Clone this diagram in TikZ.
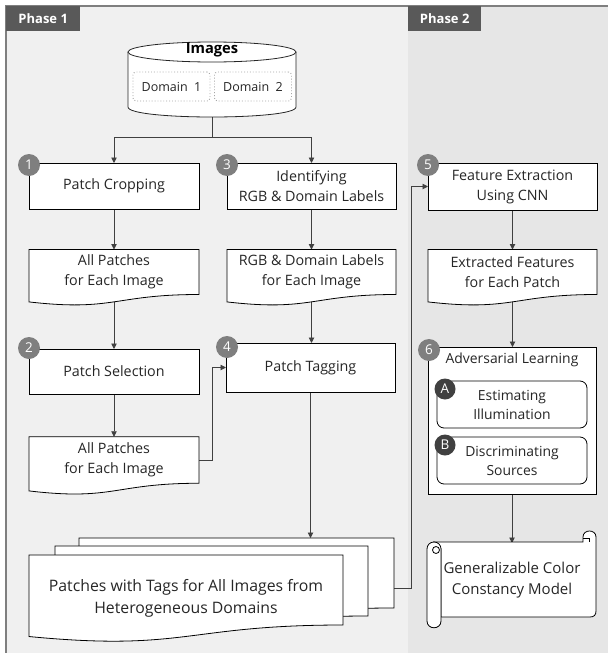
\documentclass[tikz,border=0pt]{standalone}
\usepackage{fontspec}
\setmainfont{Open Sans}
\usetikzlibrary{arrows.meta,calc}
\definecolor{pone}{HTML}{F0F0F0}
\definecolor{ptwo}{HTML}{E6E6E6}
\definecolor{hdr}{HTML}{595959}
\definecolor{framec}{HTML}{7F7F7F}
\definecolor{badgegray}{HTML}{7F7F7F}
\definecolor{badgedark}{HTML}{404040}
\definecolor{txt}{HTML}{262626}
\definecolor{lin}{HTML}{404040}
\definecolor{dotc}{HTML}{A6A6A6}
\pgfdeclarelayer{bg}\pgfdeclarelayer{conn}\pgfdeclarelayer{shp}
\pgfsetlayers{bg,conn,shp,main}
\newcommand\docoutline[1]{%
  \begin{pgfonlayer}{shp}
  \draw[docline] (#1.north west) -- (#1.north east) -- (#1.south east)
    .. controls (#1.south) and ($(#1.north)!1.381!(#1.south)$)
    .. ($(#1.north west)!1.1646!(#1.south west)$) -- cycle;
  \end{pgfonlayer}}
\begin{document}
\begin{tikzpicture}[x=1pt,y=-1pt,
  every node/.style={font=\fontsize{14.3}{20}\selectfont, text=txt},
  stepbox/.style={draw=black, line width=0.8pt, fill=white, align=center, inner sep=0pt, outer sep=0pt},
  docbox/.style={draw=none, align=center, inner sep=0pt, outer sep=0pt},
  docline/.style={draw=black, line width=0.8pt, fill=white},
  subbox/.style={draw=black, line width=0.8pt, fill=white, rounded corners=7pt, align=center, inner sep=0pt, outer sep=0pt, minimum width=150, minimum height=47, font=\fontsize{13.9}{19}\selectfont},
  badge/.style={circle, fill=badgegray, text=white, inner sep=0pt, minimum size=22, font=\fontsize{13.5}{14}\selectfont},
  badgeab/.style={circle, fill=badgedark, text=white, inner sep=0pt, minimum size=21, font=\fontsize{13.5}{14}\selectfont},
  phasehdr/.style={fill=hdr, text=white, anchor=north west, inner sep=0pt, minimum height=25, font=\bfseries\fontsize{13}{14}\selectfont},
  dombox/.style={draw=dotc, dotted, line width=0.9pt, rounded corners=3pt, minimum width=77, minimum height=29, inner sep=0pt, font=\fontsize{12.5}{14}\selectfont},
  conn/.style={draw=lin, line width=0.9pt, -{Triangle[length=5.5pt,width=5.5pt]}},
  plainline/.style={draw=lin, line width=0.9pt}
]
\useasboundingbox (0,0) rectangle (608,653);
\begin{pgfonlayer}{bg}
  \fill[pone] (6,6) rectangle (408,653);
  \fill[ptwo] (408,6) rectangle (608,653);
  \draw[framec, line width=1.3pt] (6,653) -- (6,6) -- (608,6);
\end{pgfonlayer}

% phase headers
\node[phasehdr, minimum width=74] (ph1) at (6,6) {Phase 1};
\node[phasehdr, minimum width=73] (ph2) at (408,6) {Phase 2};

% database cylinder
\draw[docline, draw=txt] (128,52) -- (128,107) .. controls (128,120.33) and (296,120.33) .. (296,107) -- (296,52);
\draw[docline, draw=txt] (212,52) ellipse [x radius=84pt, y radius=10pt];
\node[font=\bfseries\fontsize{14.7}{15}\selectfont, text=black] (img) at (212,50) {Images};
\node[dombox] (dom1) at (171.5,86.5) {Domain\ \ 1};
\node[dombox] (dom2) at (253,86.5) {Domain\ \ 2};
\coordinate (dbbottom) at (212,117);
\coordinate (split) at (212,137);

% phase 1 boxes
\node[stepbox, minimum width=170, minimum height=46] (box1) at (114,186) {Patch Cropping};
\node[stepbox, minimum width=169, minimum height=46] (box3) at (311.5,186) {Identifying\\RGB \& Domain Labels};
\node[stepbox, minimum width=170, minimum height=45] (box2) at (114,371.5) {Patch Selection};
\node[stepbox, minimum width=169, minimum height=49] (box4) at (310.5,367.5) {Patch Tagging};

\node[docbox, minimum width=170, minimum height=45] (doc1) at (114,272) {All Patches\\for Each Image};
\docoutline{doc1}
\node[docbox, minimum width=169, minimum height=45] (doc3) at (311.5,272) {RGB \& Domain Labels\\for Each Image};
\docoutline{doc3}
\node[docbox, minimum width=170, minimum height=46.5] (doc2) at (114,460) {All Patches\\for Each Image};
\docoutline{doc2}

% stack of documents
\node[docbox, minimum width=315, minimum height=70] (back) at (236.5,573) {};
\docoutline{back}
\node[docbox, minimum width=313, minimum height=70] (mid) at (211.5,581) {};
\docoutline{mid}
\node[docbox, minimum width=314, minimum height=70, font=\fontsize{15.8}{22}\selectfont] (front) at (186,590) {\raisebox{-8pt}[\height][\depth]{\begin{tabular}{@{}c@{}}Patches with Tags for All Images from\\Heterogeneous Domains\end{tabular}}};
\docoutline{front}

% phase 2
\node[stepbox, minimum width=169, minimum height=47] (box5) at (512.5,186.5) {Feature Extraction\\Using CNN};
\node[docbox, minimum width=169, minimum height=45] (doc5) at (512.5,272) {Extracted Features\\for Each Patch};
\docoutline{doc5}
\node[stepbox, minimum width=168, minimum height=147] (box6) at (512,420.5) {};
\node[font=\fontsize{13.9}{19}\selectfont] (title6) at (box6.north |- 0,360) {Adversarial Learning};
\node[subbox] (boxA) at (512,404.5) {Estimating\\Illumination};
\node[subbox] (boxB) at (512,460.5) {Discriminating\\Sources};

% scroll
\node[docbox, minimum width=169, minimum height=74, font=\fontsize{15}{20.5}\selectfont] (scroll) at (512,580) {Generalizable Color\\Constancy Model};
\begin{pgfonlayer}{shp}
  \draw[docline] (434,542) -- (583,542) -- (583,537) .. controls (583,529) and (596,529) .. (596,537) -- (596,611) .. controls (596,615) and (594,617) .. (590,617) -- (441,617) -- (441,549) -- cycle;
  \draw[draw=black, line width=0.8pt] (583,538) -- (589,538) -- (589,542);
  \draw[docline] (427,549) .. controls (427,545) and (430,542) .. (434,542) .. controls (438,542) and (441,545) .. (441,549) -- (441,621) .. controls (441,630) and (427,630) .. (427,621) -- cycle;
  \draw[docline] (436,550) circle [radius=3.5pt];
\end{pgfonlayer}

% badges
\node[badge] (n1) at ([yshift=-2pt]box1.north west) {1};
\node[badge] (n3) at ([yshift=-2pt]box3.north west) {3};
\node[badge] (n2) at ([yshift=1pt]box2.north west) {2};
\node[badge] (n4) at ([xshift=1pt,yshift=-4pt]box4.north west) {4};
\node[badge] (n5) at ([yshift=-2pt]box5.north west) {5};
\node[badge] (n6) at ([xshift=1pt,yshift=-3pt]box6.north west) {6};
\node[badgeab] (na) at ([xshift=8pt,yshift=-8pt]boxA.north west) {A};
\node[badgeab] (nb) at ([xshift=8pt,yshift=-8pt]boxB.north west) {B};

% connectors
\begin{pgfonlayer}{conn}
  \draw[plainline] (dbbottom) -- (split);
  \draw[conn] (split) -| (box1);
  \draw[conn] (split) -| (box3);
  \draw[conn] (box1) -- (doc1);
  \draw[conn] (doc1.center) -- (box2);
  \draw[conn] (box2) -- (doc2);
  \draw[conn] (doc2.east) -- ++(13,0) |- (box4.west);
  \draw[conn] (box3) -- (doc3);
  \draw[conn] (doc3.center) -- (doc3.center |- box4.north);
  \draw[conn] (box4.south) -- (box4.south |- back.north);
  \draw[conn] ($(back.north east)!0.714!(back.south east)$) -- ++(17,0) |- (box5.west);
  \draw[conn] (box5) -- (doc5);
  \draw[conn] (doc5.center) -- (doc5.center |- box6.north);
  \draw[conn] (box6.south) -- (box6.south |- scroll.north);
\end{pgfonlayer}
\end{tikzpicture}
\end{document}
